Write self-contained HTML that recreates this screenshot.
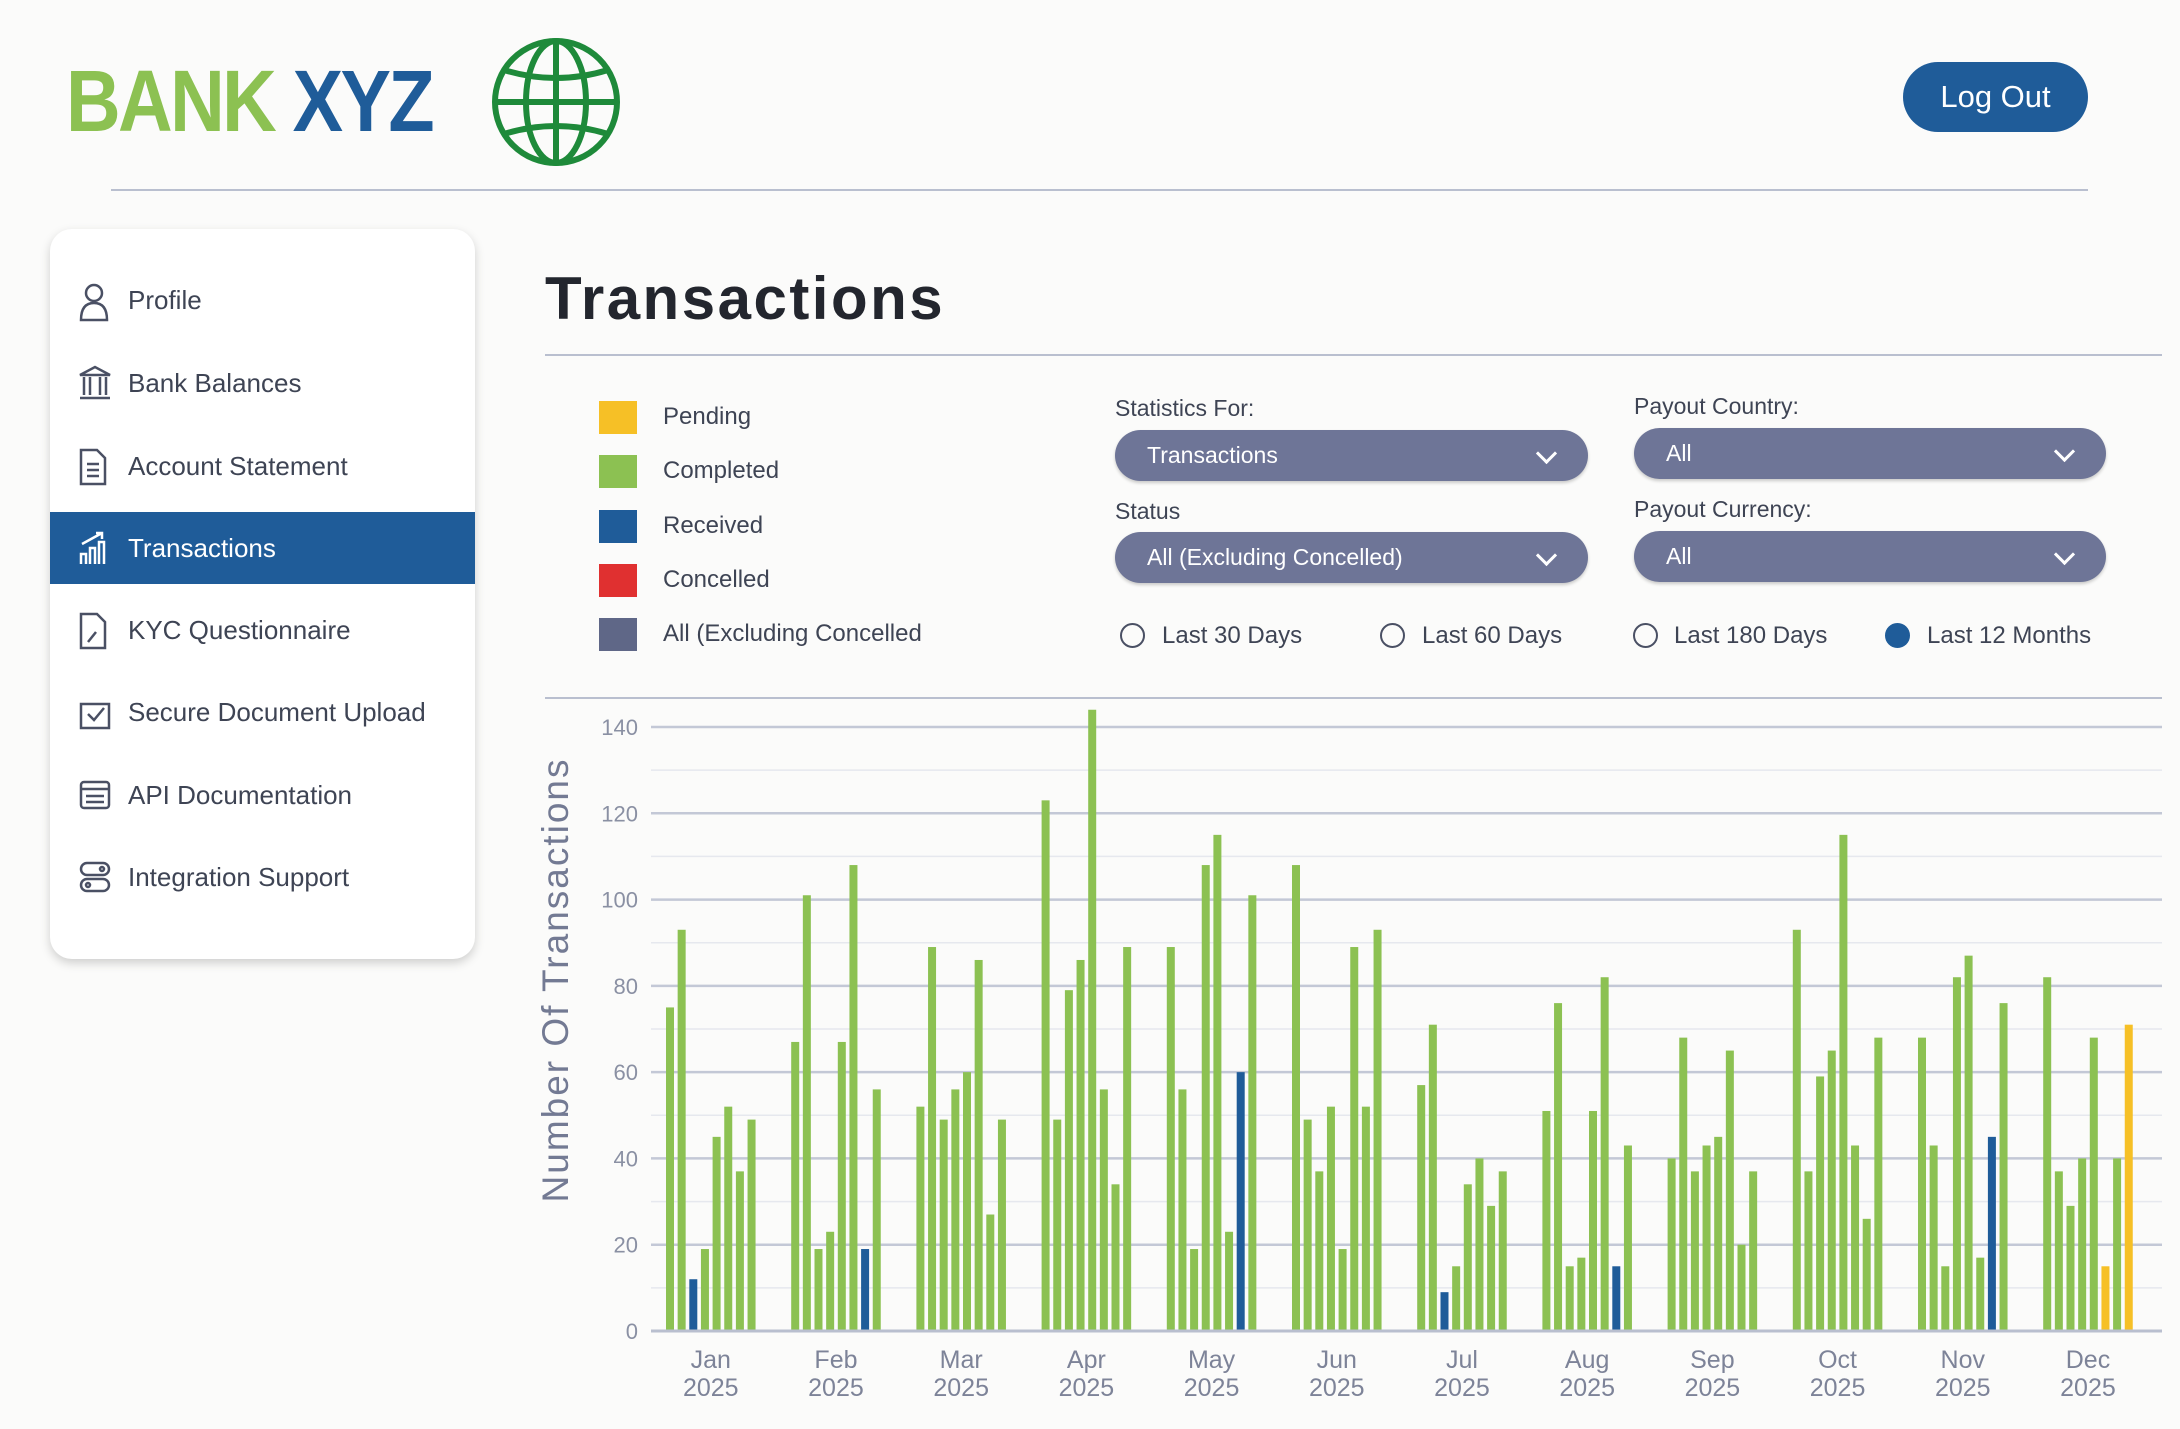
<!DOCTYPE html>
<html><head><meta charset="utf-8">
<style>
body{margin:0;width:2180px;height:1429px;background:#fbfbfa;font-family:"Liberation Sans",sans-serif;position:relative;overflow:hidden;color:#3a3f4e}
.a{position:absolute}
.logo{left:66px;top:52px;font-size:87px;font-weight:bold;letter-spacing:-3px;transform:scaleX(0.87);transform-origin:left top;white-space:nowrap}
.btn{left:1903px;top:62px;width:185px;height:70px;border-radius:35px;background:#1f5c99;color:#fff;font-size:31px;line-height:70px;text-align:center}
.card{left:50px;top:229px;width:425px;height:730px;background:#fff;border-radius:22px;box-shadow:0 4px 10px rgba(0,0,0,.18)}
.item{left:50px;width:425px;height:72px;line-height:72px;font-size:26px;color:#3e4454}
.item span{position:absolute;left:78px}
.item svg{position:absolute;left:28px;top:18px}
.act{background:#1f5c99;color:#fff}
.lg{width:38px;height:33px;left:599px}
.lt{left:663px;font-size:24px;color:#3e4454}
.lab{font-size:23px;color:#3e4454}
.dd{height:51px;border-radius:26px;background:#6e7597;color:#fff;font-size:23px;line-height:51px;box-shadow:0 2px 3px rgba(0,0,0,.2)}
.dd span{position:absolute;left:32px}
.dd i{position:absolute;right:34px;top:16px;width:12px;height:12px;border-right:3px solid #fff;border-bottom:3px solid #fff;transform:rotate(45deg)}
.rad{width:25px;height:25px;border-radius:50%;border:2px solid #4a5064;box-sizing:border-box}
.rt{font-size:24px;color:#3e4454}
</style></head><body>
<div class="a logo"><span style="color:#8cc152">BANK</span> <span style="color:#1f5c99">XYZ</span></div>
<svg class="a" style="left:490px;top:36px" width="132" height="132" viewBox="0 0 132 132">
<g fill="none" stroke="#1e8a3a" stroke-width="6">
<circle cx="66" cy="66" r="61"/>
<ellipse cx="66" cy="66" rx="30" ry="61"/>
<line x1="66" y1="5" x2="66" y2="127"/>
<line x1="5" y1="66" x2="127" y2="66"/>
<path d="M14 34 Q66 50 118 34"/><path d="M14 98 Q66 82 118 98"/>
</g></svg>
<div class="a btn">Log Out</div>
<div class="a" style="left:111px;top:189px;width:1977px;height:2px;background:#b9bfcf"></div>

<div class="a card"></div>
<div class="a item" style="top:264px"><svg width="32" height="40" viewBox="0 0 32 40" fill="none" stroke="#4a5064" stroke-width="2.5"><circle cx="16" cy="11" r="8"/><path d="M3 38 Q3 21 16 21 Q29 21 29 38 Z"/></svg><span>Profile</span></div>
<div class="a item" style="top:347px"><svg width="34" height="36" viewBox="0 0 34 36" fill="none" stroke="#4a5064" stroke-width="2.5"><path d="M2 10 L17 2 L32 10 Z"/><path d="M6 12v18M12 12v18M22 12v18M28 12v18M2 33h30"/></svg><span>Bank Balances</span></div>
<div class="a item" style="top:430px"><svg width="30" height="38" viewBox="0 0 30 38" fill="none" stroke="#4a5064" stroke-width="2.5"><path d="M3 2h16l8 8v26H3z"/><path d="M9 16h12M9 22h12M9 28h12"/></svg><span>Account Statement</span></div>
<div class="a item act" style="top:512px"><svg width="34" height="36" viewBox="0 0 34 36" fill="none" stroke="#fff" stroke-width="2.5"><path d="M3 34V24h5v10M12 34V18h5v16M21 34V12h5v22M4 14L24 3M18 3h6v6"/></svg><span>Transactions</span></div>
<div class="a item" style="top:594px"><svg width="30" height="38" viewBox="0 0 30 38" fill="none" stroke="#4a5064" stroke-width="2.5"><path d="M3 2h16l8 8v26H3z"/><path d="M10 30l8-10"/></svg><span>KYC Questionnaire</span></div>
<div class="a item" style="top:676px"><svg width="34" height="36" viewBox="0 0 34 36" fill="none" stroke="#4a5064" stroke-width="2.5"><path d="M3 10h28v24H3z"/><path d="M10 20l6 6 10-12"/></svg><span>Secure Document Upload</span></div>
<div class="a item" style="top:759px"><svg width="34" height="36" viewBox="0 0 34 36" fill="none" stroke="#4a5064" stroke-width="2.5"><rect x="3" y="5" width="28" height="26" rx="3"/><path d="M3 12h28M8 19h18M8 25h18"/></svg><span>API Documentation</span></div>
<div class="a item" style="top:841px"><svg width="34" height="36" viewBox="0 0 34 36" fill="none" stroke="#4a5064" stroke-width="2.5"><rect x="3" y="4" width="28" height="12" rx="6"/><rect x="3" y="20" width="28" height="12" rx="6"/><circle cx="24" cy="10" r="2"/><circle cx="10" cy="26" r="2"/></svg><span>Integration Support</span></div>

<div class="a" style="left:545px;top:264px;font-size:60px;font-weight:bold;color:#23262e;letter-spacing:2.5px">Transactions</div>
<div class="a" style="left:545px;top:354px;width:1617px;height:2px;background:#b9bfcf"></div>

<div class="a lg" style="top:401px;background:#f6c026"></div><div class="a lt" style="top:403px">Pending</div>
<div class="a lg" style="top:455px;background:#8cc152"></div><div class="a lt" style="top:457px">Completed</div>
<div class="a lg" style="top:510px;background:#1f5c99"></div><div class="a lt" style="top:512px">Received</div>
<div class="a lg" style="top:564px;background:#e03030"></div><div class="a lt" style="top:566px">Concelled</div>
<div class="a lg" style="top:618px;background:#5f6787"></div><div class="a lt" style="top:620px">All (Excluding Concelled</div>

<div class="a lab" style="left:1115px;top:395px">Statistics For:</div>
<div class="a dd" style="left:1115px;top:430px;width:473px"><span>Transactions</span><i></i></div>
<div class="a lab" style="left:1634px;top:393px">Payout Country:</div>
<div class="a dd" style="left:1634px;top:428px;width:472px"><span>All</span><i></i></div>
<div class="a lab" style="left:1115px;top:498px">Status</div>
<div class="a dd" style="left:1115px;top:532px;width:473px"><span>All (Excluding Concelled)</span><i></i></div>
<div class="a lab" style="left:1634px;top:496px">Payout Currency:</div>
<div class="a dd" style="left:1634px;top:531px;width:472px"><span>All</span><i></i></div>

<div class="a rad" style="left:1120px;top:623px"></div><div class="a rt" style="left:1162px;top:622px">Last 30 Days</div>
<div class="a rad" style="left:1380px;top:623px"></div><div class="a rt" style="left:1422px;top:622px">Last 60 Days</div>
<div class="a rad" style="left:1633px;top:623px"></div><div class="a rt" style="left:1674px;top:622px">Last 180 Days</div>
<div class="a rad" style="left:1885px;top:623px;background:#1f5c99;border-color:#1f5c99"></div><div class="a rt" style="left:1927px;top:622px">Last 12 Months</div>

<div class="a" style="left:545px;top:697px;width:1617px;height:2px;background:#b9bfcf"></div>

<svg id="ch" class="a" style="left:0;top:0" width="2180" height="1429"></svg>
<script>
var s='',y0=1331,k=604/140;
for(var v=0;v<=145;v+=10){var y=y0-v*k;var maj=v%20==0;
s+='<line x1="651" x2="2162" y1="'+y+'" y2="'+y+'" stroke="'+(maj?'#c3c8d6':'#e6e8ee')+'" stroke-width="'+(maj?2.5:1.5)+'"/>';
if(maj)s+='<text x="638" y="'+(y+8)+'" text-anchor="end" font-size="22" fill="#8a90a3">'+v+'</text>';}
var d=[[75,93,-12,19,45,52,37,49],[67,101,19,23,67,108,-19,56],[52,89,49,56,60,86,27,49],[123,49,79,86,144,56,34,89],[89,56,19,108,115,23,-60,101],[108,49,37,52,19,89,52,93],[57,71,-9,15,34,40,29,37],[51,76,15,17,51,82,-15,43],[40,68,37,43,45,65,20,37],[93,37,59,65,115,43,26,68],[68,43,15,82,87,17,-45,76],[82,37,29,40,68,'y15',40,'y71']];
var m=['Jan','Feb','Mar','Apr','May','Jun','Jul','Aug','Sep','Oct','Nov','Dec'];
for(var i=0;i<12;i++){var x0=666+i*125.2;
for(var j=0;j<8;j++){var v=d[i][j],c='#8cc152';
if(typeof v=='string'){c='#f6c026';v=+v.slice(1);}else if(v<0){c='#1f5c99';v=-v;}
s+='<rect x="'+(x0+j*11.65)+'" y="'+(y0-v*k)+'" width="8" height="'+(v*k)+'" fill="'+c+'"/>';}
var cx=x0+3.5*11.65+4;
s+='<text x="'+cx+'" y="1368" text-anchor="middle" font-size="25" fill="#7d8398">'+m[i]+'</text>';
s+='<text x="'+cx+'" y="1396" text-anchor="middle" font-size="25" fill="#7d8398">2025</text>';}
s+='<line x1="651" x2="2162" y1="'+y0+'" y2="'+y0+'" stroke="#b9bfcf" stroke-width="3"/>';
s+='<text transform="translate(568,980) rotate(-90)" text-anchor="middle" font-size="37" fill="#737a93" letter-spacing="2">Number Of Transactions</text>';
document.getElementById('ch').innerHTML=s;
</script>
</body></html>
